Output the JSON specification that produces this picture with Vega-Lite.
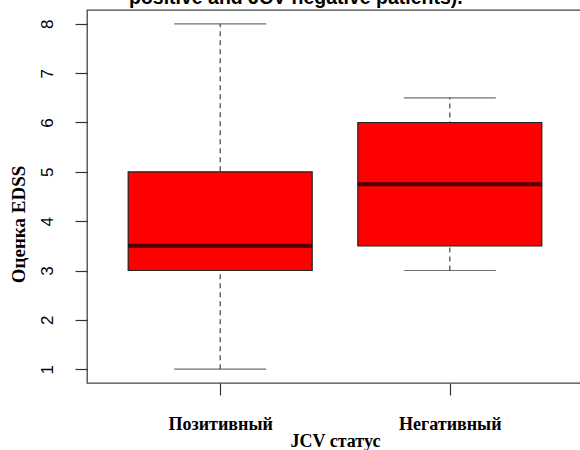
{
  "$schema": "https://vega.github.io/schema/vega-lite/v6.json",
  "autosize": "none",
  "width": 496,
  "height": 373,
  "padding": {"left": 87, "top": 10, "right": 0, "bottom": 67},
  "background": "white",
  "config": {
    "view": {"stroke": "#444444", "strokeWidth": 1.3},
    "axis": {"domain": false, "grid": false, "tickColor": "#333333", "tickWidth": 1.2, "tickSize": 12, "labelColor": "black", "titleColor": "black"}
  },
  "title": {
    "text": "positive and JCV-negative patients).",
    "anchor": "start",
    "frame": "group",
    "dx": 42,
    "offset": -13,
    "baseline": "alphabetic",
    "font": "Liberation Sans",
    "fontSize": 19.5,
    "fontWeight": "bold",
    "color": "black"
  },
  "data": {
    "values": [
      {"group": "Позитивный", "min": 1, "q1": 3, "median": 3.5, "q3": 5, "max": 8},
      {"group": "Негативный", "min": 3, "q1": 3.5, "median": 4.75, "q3": 6, "max": 6.5}
    ]
  },
  "encoding": {
    "x": {
      "field": "group",
      "type": "nominal",
      "sort": null,
      "scale": {"type": "point", "padding": 0.58},
      "title": "JCV статус",
      "axis": {
        "labelAngle": 0,
        "labelFont": "Liberation Serif",
        "labelFontWeight": "bold",
        "labelFontSize": 18,
        "labelBaseline": "alphabetic",
        "labelPadding": 34,
        "titleFont": "Liberation Serif",
        "titleFontWeight": "bold",
        "titleFontSize": 18,
        "titleBaseline": "alphabetic",
        "titleY": 63
      }
    }
  },
  "layer": [
    {
      "mark": {"type": "rule", "strokeDash": [5, 4], "color": "#333333", "strokeWidth": 1.1},
      "encoding": {
        "y": {
          "field": "min",
          "type": "quantitative",
          "scale": {"domain": [0.72, 8.28], "nice": false, "zero": false},
          "title": "Оценка EDSS",
          "axis": {
            "values": [1, 2, 3, 4, 5, 6, 7, 8],
            "labelAngle": -90,
            "labelAlign": "center",
            "labelBaseline": "alphabetic",
            "labelPadding": 23,
            "labelFont": "Liberation Sans",
            "labelFontSize": 17,
            "titleFont": "Liberation Serif",
            "titleFontWeight": "bold",
            "titleFontSize": 19,
            "titleAngle": -90,
            "titleAlign": "center",
            "titleBaseline": "alphabetic",
            "titleX": -63,
            "titleY": 214
          }
        },
        "y2": {"field": "max"}
      }
    },
    {
      "mark": {"type": "tick", "color": "#333333", "thickness": 1.2, "size": 92},
      "encoding": {"y": {"field": "min", "type": "quantitative"}}
    },
    {
      "mark": {"type": "tick", "color": "#333333", "thickness": 1.2, "size": 92},
      "encoding": {"y": {"field": "max", "type": "quantitative"}}
    },
    {
      "mark": {"type": "bar", "size": 184, "fill": "#ff0000", "stroke": "#222222", "strokeWidth": 1.2},
      "encoding": {"y": {"field": "q1", "type": "quantitative"}, "y2": {"field": "q3"}}
    },
    {
      "mark": {"type": "tick", "color": "black", "thickness": 4, "size": 184},
      "encoding": {"y": {"field": "median", "type": "quantitative"}}
    }
  ]
}
